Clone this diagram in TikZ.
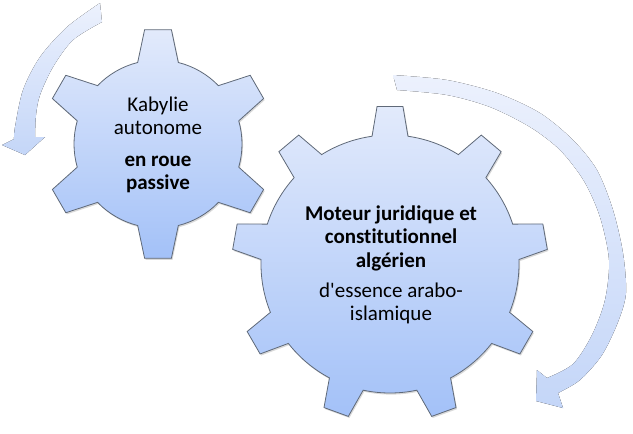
\documentclass[tikz,border=0pt]{standalone}
\usepackage{fontspec}
\setmainfont{Carlito}[Ligatures={TeXOff,CommonOff}]
\usetikzlibrary{shadows}
\definecolor{gearTop}{RGB}{226,234,251}
\definecolor{gearBot}{RGB}{163,193,248}
\definecolor{gearLine}{RGB}{95,105,120}
\definecolor{turnTop}{RGB}{236,241,253}
\definecolor{turnBot}{RGB}{196,214,248}
\begin{document}
\begin{tikzpicture}[x=0.75pt,y=0.75pt,yscale=-1,xscale=1,
  gear/.style={draw=gearLine,line width=0.6pt,top color=gearTop,bottom color=gearBot,
    drop shadow={shadow xshift=0.8pt,shadow yshift=-1.2pt,opacity=0.3}},
  turn/.style={top color=turnTop,bottom color=turnBot,draw=none},
  gtext/.style={align=center,inner sep=0.75pt,font=\fontsize{15.75}{17.6}\selectfont}]
\useasboundingbox (0,0) rectangle (633,433);

%Shape: Circular Arrow (left)
\fill[turn] plot[smooth] coordinates {(100,3) (67,27) (40,57) (23,90) (15,127) (14,139)} -- (2,145) -- (25,155) -- (45,137) -- plot[smooth] coordinates {(35,137) (36,115) (40,95) (53,67) (73,40) (102,22)} -- cycle;
%Shape: Circular Arrow (right)
\fill[turn] plot[smooth] coordinates {(393,75) (447,80) (497,93) (540,113) (573,140) (597,170) (613,210) (623,253) (626,293) (618,322) (602,355) (580,380) (558,393)} -- (563,408) -- (536,401) -- (537,370) -- plot[smooth] coordinates {(547,378) (573,364) (592,335) (605,300) (609,260) (600,217) (584,181) (560,150) (530,127) (490,107) (447,95) (397,90)} -- cycle;

%Shape: Gear (small, 6 teeth)
\draw[gear,shift={(158,144)}] (-104:84) \foreach \a in {-90,-30,30,90,150,210} { -- ({\a-14}:84) -- ({\a-6.7}:115) -- ({\a+6.7}:115) -- ({\a+14}:84) arc[start angle=\a+14,end angle=\a+46,radius=84] } -- cycle;
%Shape: Gear (big, 9 teeth)
\draw[gear,shift={(390,264)}] (-98:129) \foreach \a in {-90,-50,...,230} { -- ({\a-8}:129) -- ({\a-4.7}:158) -- ({\a+4.7}:158) -- ({\a+8}:129) arc[start angle=\a+8,end angle=\a+32,radius=129] } -- cycle;

% Text Node
\node[gtext] (kabylie) at (158,145) {Kabylie\\autonome\\[6pt]\textbf{en roue}\\\textbf{passive}};
% Text Node
\node[gtext] (moteur) at (391,265) {\textbf{Moteur juridique et}\\\textbf{constitutionnel}\\\textbf{algérien}\\[5pt]d'essence arabo-\\islamique};

\end{tikzpicture}
\end{document}
